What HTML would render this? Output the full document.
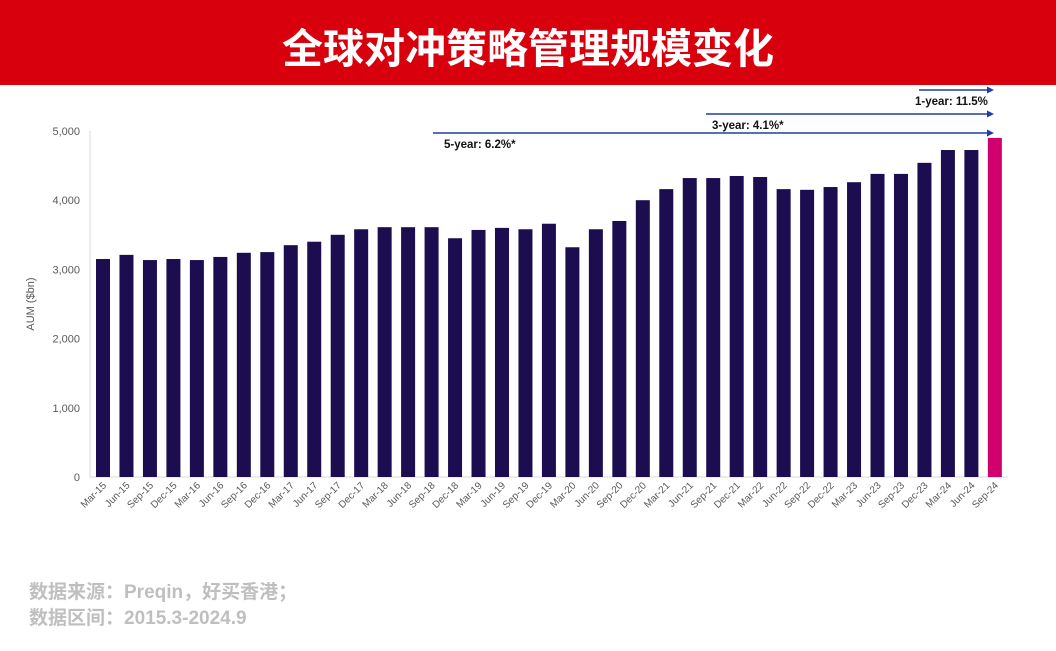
<!DOCTYPE html>
<html><head><meta charset="utf-8"><style>
body{margin:0;width:1056px;height:651px;background:#fff;overflow:hidden;font-family:"Liberation Sans","Noto Sans CJK SC",sans-serif}
.hdr{position:absolute;left:0;top:0;width:1056px;height:85px;background:#d9000d;color:#fff;font-weight:bold;font-size:41px;text-align:center;line-height:98px;font-family:"Liberation Sans","Noto Sans CJK SC",sans-serif}
.src{position:absolute;left:29px;top:580px;color:#bfbfbf;font-weight:bold;font-size:19px;line-height:26px;font-family:"Liberation Sans","Noto Sans CJK SC",sans-serif}
</style></head><body>
<div class="hdr">全球对冲策略管理规模变化</div>
<svg width="1056" height="651" style="position:absolute;left:0;top:0">
<g id="c"></g>
</svg>
<div class="src">数据来源：Preqin，好买香港；<br>数据区间：2015.3-2024.9</div>
<script>
const v=[3150,3210,3135,3150,3135,3180,3240,3250,3350,3400,3500,3580,3610,3610,3610,3450,3570,3600,3580,3660,3320,3580,3700,4000,4160,4320,4320,4350,4335,4160,4150,4190,4260,4380,4380,4540,4725,4725,4900];
const m=["Mar","Jun","Sep","Dec"];
let s='';
const y0=477,k=346/5000;
s+=`<line x1="90" y1="131" x2="90" y2="477" stroke="#d9d9d9"/><line x1="90" y1="477" x2="1008" y2="477" stroke="#d9d9d9"/>`;
for(let i=0;i<=5;i++){const y=y0-i*1000*k;s+=`<text x="80" y="${y+4}" font-size="11" fill="#595959" text-anchor="end">${i==0?'0':(i+',000')}</text>`;}
s+=`<text transform="translate(34,304) rotate(-90)" font-size="11" fill="#595959" text-anchor="middle">AUM ($bn)</text>`;
v.forEach((d,i)=>{const cx=103+i*23.47,h=d*k;s+=`<rect x="${cx-7}" y="${y0-h}" width="14" height="${h}" fill="${i==38?'#d1006f':'#1c0c50'}"/>`;
const lab=m[i%4]+'-'+(15+Math.floor(i/4));
s+=`<text transform="translate(${cx+4},${486}) rotate(-45)" font-size="10" fill="#595959" text-anchor="end">${lab}</text>`;});
function ar(x1,y,t,tx,ty){s+=`<line x1="${x1}" y1="${y}" x2="988" y2="${y}" stroke="#1f3fa8" stroke-width="1.6"/><polygon points="987,${y-3.5} 994,${y} 987,${y+3.5}" fill="#1f3fa8"/><text x="${tx}" y="${ty}" font-size="11.5" font-weight="bold" fill="#111">${t}</text>`;}
ar(919,90,'1-year: 11.5%',915,105);
ar(706,114,'3-year: 4.1%*',712,129);
ar(433,133,'5-year: 6.2%*',444,148);
document.getElementById('c').innerHTML=s;
</script>
</body></html>
